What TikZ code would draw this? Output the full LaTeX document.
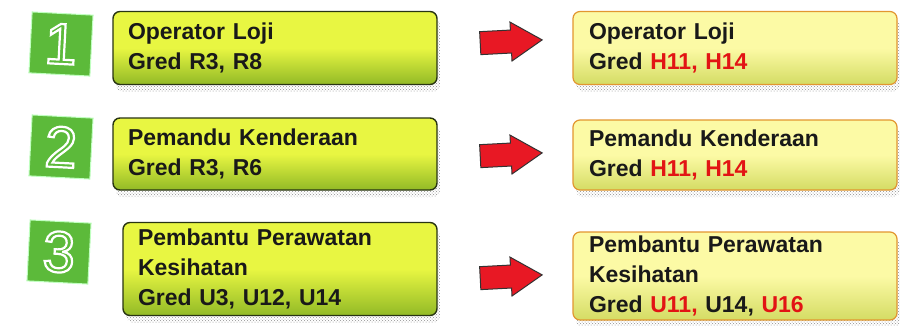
\documentclass[tikz,border=0pt]{standalone}
\usepackage{fontspec}
\setmainfont{Liberation Sans}
\usetikzlibrary{positioning,shapes.arrows,shadows,patterns}

\definecolor{limetop}{RGB}{232,246,66}
\definecolor{limebot}{RGB}{146,186,38}
\definecolor{limeedge}{RGB}{40,52,18}
\definecolor{creamtop}{RGB}{252,250,165}
\definecolor{creambot}{RGB}{212,220,100}
\definecolor{creamedge}{RGB}{226,150,48}
\definecolor{gradered}{RGB}{226,20,20}
\definecolor{tilegreen}{RGB}{92,186,58}
\definecolor{arrowred}{RGB}{232,24,36}
% outlined digit: stroke the glyph only
\newcommand{\hollow}[1]{\special{pdf:literal direct 1 Tr 2.2 w}#1\special{pdf:literal direct 0 Tr}}

\begin{document}
\begin{tikzpicture}[x=1pt, y=-1pt,
  boxtext/.style={font=\fontsize{23}{30}\selectfont\bfseries, align=left,
                  inner xsep=15pt, inner ysep=0pt, text=black!90},
  halftone/.style={drop shadow={shadow xshift=3pt, shadow yshift=-7pt,
                   opacity=.8, pattern=crosshatch dots, pattern color=black!55}},
  old/.style={boxtext, halftone, draw=limeedge, line width=1.4pt, rounded corners=7pt,
              top color=limetop, bottom color=limebot, middle color=limetop},
  new/.style={boxtext, halftone, draw=creamedge, line width=1.2pt, rounded corners=7pt,
              top color=creamtop, bottom color=creambot, middle color=creamtop},
  tile/.style={fill=tilegreen, draw=green!25!white, line width=1pt, minimum size=61pt,
               inner sep=0pt, rotate=-3, text=white, font=\fontsize{58}{58}\selectfont},
  redarrow/.style={single arrow, draw=black!80, line width=1pt, fill=arrowred,
                   minimum height=62pt, inner xsep=0pt, inner ysep=11pt,
                   single arrow head extend=8pt, single arrow tip angle=64, rotate=3}
]
\fill[white] (0,0) rectangle (900,325);
\useasboundingbox (0,0) rectangle (900,325);

% ---- left: current grades ----
\foreach \i/\x/\y/\w/\h/\txt in {
    1/275/48/324/73/{Operator Loji\\Gred R3, R8},
    2/275/154/324/72/{Pemandu Kenderaan\\Gred R3, R6},
    3/280/269/314/93/{Pembantu Perawatan\\Kesihatan\\Gred U3, U12, U14}}{
  \node[old, minimum width=\w pt, minimum height=\h pt, text width=\w pt-30pt]
    (old\i) at (\x,\y) {\txt};
}

% ---- number tiles ----
\foreach \i/\x/\y in {1/61/44, 2/61/147, 3/59/252}{
  \node[tile] (tile\i) at (\x,\y) {\hollow{\i}};
}

% ---- red arrows ----
\foreach \i/\y in {1/42, 2/155, 3/277}{
  \node[redarrow] (arr\i) at (502,\y) {};
}

% ---- right: new grades ----
\node[new, minimum width=324pt, minimum height=73pt, text width=292pt]
  (new1) at (735,48) {Operator Loji\\Gred \textcolor{gradered}{H11, H14}};
\node[new, minimum width=324pt, minimum height=70pt, text width=292pt]
  (new2) at (735,155) {Pemandu Kenderaan\\Gred \textcolor{gradered}{H11, H14}};
\node[new, minimum width=324pt, minimum height=88pt, text width=292pt]
  (new3) at (735,276) {Pembantu Perawatan\\Kesihatan\\Gred
  \textcolor{gradered}{U11,} U14, \textcolor{gradered}{U16}};
\end{tikzpicture}
\end{document}
